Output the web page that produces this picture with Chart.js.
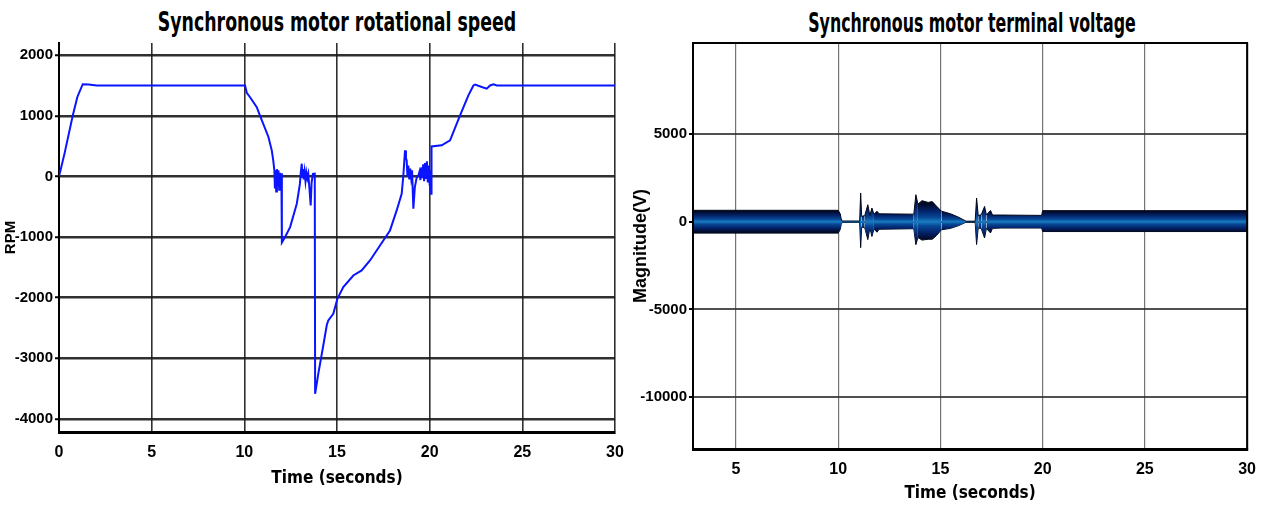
<!DOCTYPE html>
<html>
<head>
<meta charset="utf-8">
<script src="https://cdn.jsdelivr.net/npm/chart.js@4.4.0/dist/chart.umd.min.js"></script>
<style>
  body { margin: 0; background: #fff; width: 1267px; height: 509px; overflow: hidden; position: relative; }
  canvas { position: absolute; top: 0; }
  #speedChart { left: 0; }
  #voltChart { left: 630px; }
  .titulo {
    position: absolute; font-family: 'Liberation Sans Narrow', 'DejaVu Sans Condensed', sans-serif;
    font-weight: bold; line-height: 1; color: #000; white-space: nowrap;
  }
</style>
</head>
<body>
<div class="titulo" style="left:337px; top:12px; font-size:19.3px; transform: translateX(-50%) scaleY(1.42)">Synchronous motor rotational speed</div>
<div class="titulo" style="left:972px; top:15px; font-size:17.6px; transform: translateX(-50%) scaleY(1.5)">Synchronous motor terminal voltage</div>
<canvas id="speedChart" width="640" height="509"></canvas>
<canvas id="voltChart" width="637" height="509"></canvas>
<script>
// rotational speed (RPM) vs time (s)
const speedTime = [0, 0.3, 0.74, 0.99, 1.28, 1.6, 2.03, 10.04, 10.13, 10.3, 10.67, 10.85, 11.3, 11.48, 11.56, 11.62,
  11.65, 11.68, 11.72, 11.76, 11.8, 11.84, 11.88, 11.92, 11.96, 12.0, 12.02, 12.03, 12.2, 12.47, 12.83, 13.0,
  13.05, 13.1, 13.13, 13.17, 13.2, 13.25, 13.3, 13.35, 13.4, 13.45, 13.5, 13.58, 13.63, 13.7, 13.8, 13.82,
  13.99, 14.26, 14.45, 14.53, 14.8, 15.02, 15.34, 15.88, 16.33, 16.78, 17.14, 17.5, 17.86, 18.04, 18.22, 18.49,
  18.58, 18.67, 18.72, 18.76, 18.8, 18.85, 18.9, 18.95, 19.0, 19.05, 19.12, 19.2, 19.3, 19.39, 19.45, 19.5,
  19.55, 19.6, 19.65, 19.7, 19.75, 19.8, 19.85, 19.9, 19.95, 20.0, 20.05, 20.08, 20.1, 20.65, 21.1, 21.64,
  22.09, 22.36, 22.45, 22.81, 23.08, 23.26, 23.44, 23.62, 30];
const speedRpm = [0, 380, 1000, 1310, 1520, 1515, 1500, 1500, 1380, 1310, 1143, 1000, 650, 430, 265, 100,
  -200, 80, -250, 120, -150, 100, -220, 60, -120, 0, 50, -1090, -1000, -836, -450, -120,
  80, 210, -20, 120, -50, 80, -80, 60, -30, 40, -150, -480, -100, 40, 45, -3585,
  -3256, -2789, -2450, -2376, -2266, -2018, -1826, -1634, -1551, -1386, -1221, -1056, -891, -726, -561, -286,
  16, 429, 300, 264, 0, 180, -50, 130, -20, 100, -533, -176, -20, 16, 80, -60,
  150, -30, 200, -80, 220, -40, 250, -100, 180, -150, 100, -286, 495, 512, 594, 1006,
  1336, 1500, 1513, 1474, 1447, 1500, 1518, 1500, 1500];
const speedTicksX = [0, 5, 10, 15, 20, 25, 30];
const speedTicksY = [-4000, -3000, -2000, -1000, 0, 1000, 2000];

// terminal voltage envelope (V) vs time (s)
const voltTime = [2.9, 10.0, 10.1, 10.15, 10.2, 11.05, 11.1, 11.15, 11.3, 11.45, 11.55, 11.65, 11.75, 11.9, 12.0,
  13.7, 13.8, 13.9, 14.1, 14.4, 14.6, 14.8, 15.05, 15.5, 15.9, 16.25, 16.7, 16.77, 16.85, 17.0, 17.16, 17.25,
  17.45, 17.55, 18.0, 19.95, 20.0, 30];
const voltUpper = [650, 650, 450, 150, 40, 40, 1640, 300, 350, 970, 350, 780, 420, 600, 450,
  430, 1540, 1000, 1200, 1100, 1150, 900, 600, 450, 250, 30, 30, 1350, 350, 400, 870, 380,
  640, 380, 380, 360, 630, 630];
const voltLower = [-650, -650, -450, -150, -40, -40, -1480, -300, -350, -1020, -350, -840, -420, -600, -430,
  -400, -1310, -900, -1050, -1000, -1000, -800, -460, -380, -220, -30, -30, -1300, -350, -400, -930, -380,
  -640, -380, -360, -360, -560, -560];
const voltTicksX = [5, 10, 15, 20, 25, 30];
const voltTicksY = [-10000, -5000, 0, 5000];

const fonteEixo = "'Liberation Sans', Arial, sans-serif";

function pares(xs, ys) {
  return xs.map((x, i) => ({ x: x, y: ys[i] }));
}

const moldura = {
  id: 'moldura',
  afterDatasetsDraw(chart, args, opts) {
    if (!opts.on) return;
    const { ctx, chartArea: a } = chart;
    ctx.save();
    ctx.strokeStyle = '#000';
    ctx.lineWidth = 2;
    ctx.strokeRect(a.left, a.top, a.right - a.left, a.bottom - a.top);
    ctx.restore();
  }
};

// gradiente da faixa: bordas escuras, centro azul claro, escala pela amplitude local
const cacheGrad = {};
function gradienteFaixa(chart, amp) {
  if (cacheGrad[amp]) return cacheGrad[amp];
  const y = chart.scales.y;
  const g = chart.ctx.createLinearGradient(0, y.getPixelForValue(amp), 0, y.getPixelForValue(-amp));
  g.addColorStop(0, '#000614');
  g.addColorStop(0.1, '#010c2c');
  g.addColorStop(0.25, '#03236c');
  g.addColorStop(0.4, '#074896');
  g.addColorStop(0.5, '#1a7cc2');
  g.addColorStop(0.6, '#074896');
  g.addColorStop(0.75, '#03236c');
  g.addColorStop(0.9, '#010c2c');
  g.addColorStop(1, '#000614');
  cacheGrad[amp] = g;
  return g;
}

function corSegmento(ctx) {
  const chart = ctx.chart;
  if (!chart.chartArea) return '#06428f';
  const i = ctx.p0DataIndex, j = ctx.p1DataIndex;
  const m = Math.max(voltUpper[i], voltUpper[j], -voltLower[i], -voltLower[j]);
  // poucas classes, para os trechos vizinhos partilharem o mesmo gradiente
  const amp = m <= 800 ? 700 : (m <= 1300 ? 1200 : 1600);
  return gradienteFaixa(chart, amp);
}

function eixoX(min, max, ticks, bottomFit, gridCor, gridLarg) {
  return {
    type: 'linear', min: min, max: max,
    afterBuildTicks: s => { s.ticks = ticks.map(v => ({ value: v })); },
    afterFit: s => { s.height = bottomFit; },
    grid: { color: gridCor, lineWidth: gridLarg, drawTicks: false },
    border: { display: true, color: '#000', width: 3 },
    ticks: { color: '#000', padding: 11, font: { family: fonteEixo, size: 16, weight: 'bold' }, maxRotation: 0,
      callback: v => String(v) },
    title: { display: true, text: 'Time (seconds)', color: '#000', padding: { top: 4, bottom: 4 },
      font: { family: "'DejaVu Sans Condensed', sans-serif", size: 17, weight: 'bold' } }
  };
}

function eixoY(min, max, ticks, largura, titulo, tituloPad, tituloTam, gridCor, gridLarg) {
  return {
    type: 'linear', min: min, max: max,
    afterBuildTicks: s => { s.ticks = ticks.map(v => ({ value: v })); },
    afterFit: s => { s.width = largura; },
    grid: { color: gridCor, lineWidth: gridLarg, tickLength: 4, tickColor: '#000', tickWidth: 2 },
    border: { display: true, color: '#000', width: 2 },
    ticks: { color: '#000', padding: 2, font: { family: fonteEixo, size: 15, weight: 'bold' },
      callback: v => String(v) },
    title: { display: true, text: titulo, color: '#000', padding: { top: tituloPad, bottom: 0 },
      font: { family: "'Liberation Sans', Arial, sans-serif", size: tituloTam, weight: 'bold' } }
  };
}

new Chart(document.getElementById('speedChart'), {
  type: 'line',
  data: {
    datasets: [{
      data: pares(speedTime, speedRpm),
      borderColor: '#0a14ff',
      borderWidth: 2,
      pointRadius: 0,
      tension: 0,
      fill: false
    }]
  },
  options: {
    responsive: false,
    animation: false,
    layout: { padding: { top: 43, right: 25, bottom: 16, left: 0 } },
    plugins: { legend: { display: false }, tooltip: { enabled: false }, moldura: { on: false } },
    scales: {
      x: eixoX(0, 30, speedTicksX, 61, 'rgba(25,25,25,0.9)', 1.6),
      y: eixoY(-4215, 2200, speedTicksY, 59, 'RPM', 2, 15, 'rgba(25,25,25,0.9)', 2.5)
    }
  },
  plugins: [moldura]
});

new Chart(document.getElementById('voltChart'), {
  type: 'line',
  data: {
    datasets: [
      {
        data: pares(voltTime, voltUpper),
        borderColor: '#000618',
        borderWidth: 1,
        pointRadius: 0,
        tension: 0,
        fill: '+1',
        backgroundColor: '#06428f',
        segment: { backgroundColor: corSegmento }
      },
      {
        data: pares(voltTime, voltLower),
        borderColor: '#000618',
        borderWidth: 1,
        pointRadius: 0,
        tension: 0,
        fill: false
      }
    ]
  },
  options: {
    responsive: false,
    animation: false,
    layout: { padding: { top: 43, right: 17, bottom: 1, left: 0 } },
    plugins: { legend: { display: false }, tooltip: { enabled: false }, moldura: { on: true } },
    scales: {
      x: eixoX(2.9, 30, voltTicksX, 59, 'rgba(70,70,70,0.75)', 1.2),
      y: eixoY(-12960, 10190, voltTicksY, 63, 'Magnitude(V)', 0, 18, 'rgba(50,50,50,0.85)', 2)
    }
  },
  plugins: [moldura]
});
</script>
</body>
</html>
